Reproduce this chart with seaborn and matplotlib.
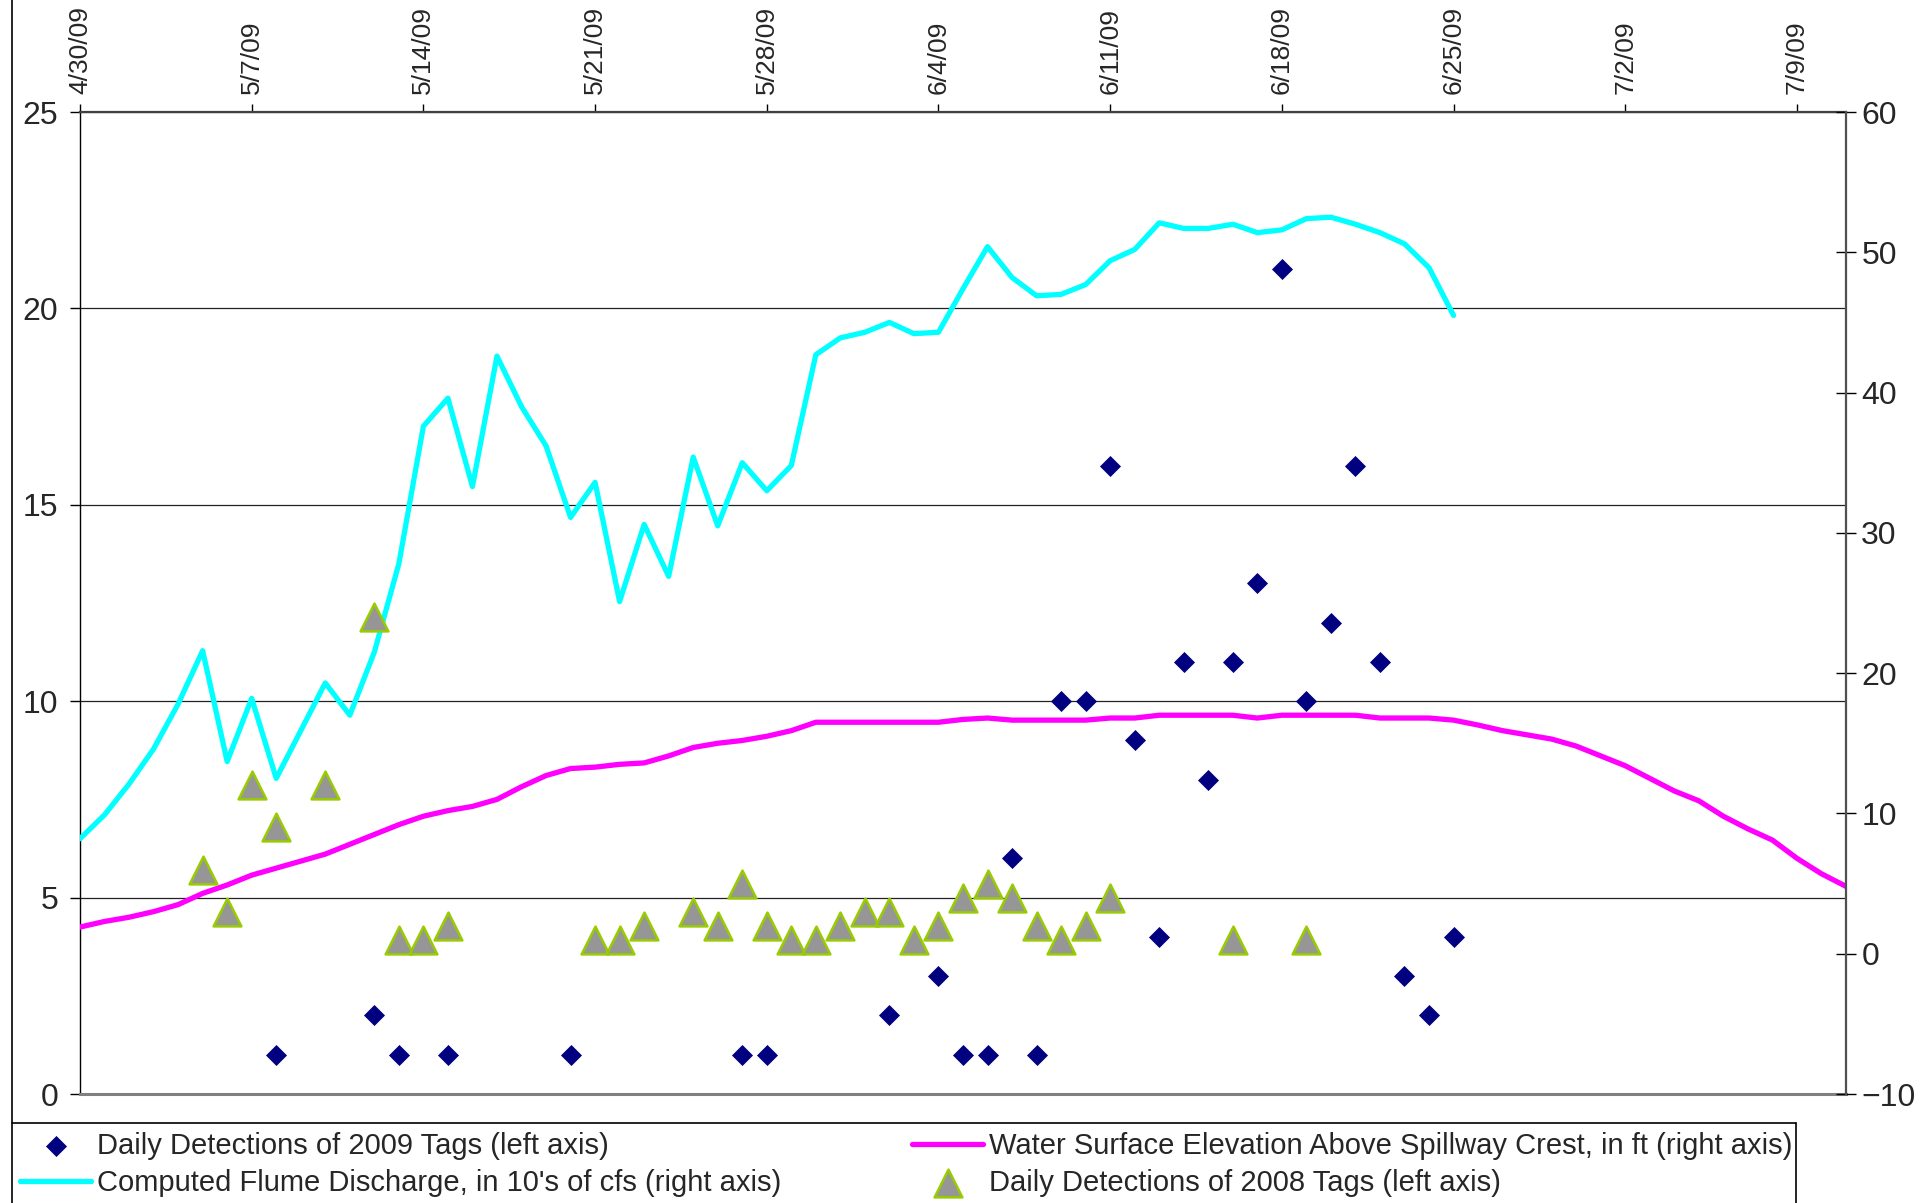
"""
Fish tag detections vs. flume discharge and water surface elevation, 2009.
"""

import matplotlib
matplotlib.use("Agg")
import matplotlib.pyplot as plt
from matplotlib.lines import Line2D
import seaborn as sns
import pandas as pd

sns.set_style("white")
plt.rcParams['font.family'] = ['Liberation Sans', 'DejaVu Sans']

# ---- data -------------------------------------------------------------
start = pd.Timestamp("2009-04-30")
end = pd.Timestamp("2009-07-11")

tick_labels = ["4/30/09", "5/7/09", "5/14/09", "5/21/09", "5/28/09", "6/4/09",
               "6/11/09", "6/18/09", "6/25/09", "7/2/09", "7/9/09"]

# daily detections of 2009 tags (left axis), day offset from 4/30/09
tags_2009_day = [8, 12, 13, 15, 20, 27, 28, 33, 35, 36, 37, 38, 39, 40, 41,
                 42, 43, 44, 45, 46, 47, 48, 49, 50, 51, 52, 53, 54, 55, 56]
tags_2009 = [1, 2, 1, 1, 1, 1, 1, 2, 3, 1, 1, 6, 1, 10, 10,
             16, 9, 4, 11, 8, 11, 13, 21, 10, 12, 16, 11, 3, 2, 4]

# daily detections of 2008 tags (plotted against the right axis)
tags_2008_day = [5, 6, 7, 8, 10, 12, 13, 14, 15, 21, 22, 23, 25, 26, 27, 28,
                 29, 30, 31, 32, 33, 34, 35, 36, 37, 38, 39, 40, 41, 42, 47, 50]
tags_2008 = [6, 3, 12, 9, 12, 24, 1, 1, 2, 1, 1, 2, 3, 2, 5, 2,
             1, 1, 2, 3, 3, 1, 2, 4, 5, 4, 2, 1, 2, 4, 1, 1]

# computed flume discharge, 10's of cfs (right axis), daily from 4/30/09
flume = [8.2, 9.9, 12.1, 14.6, 17.8, 21.6, 13.7, 18.2, 12.5, 15.9,
         19.3, 17.0, 21.5, 27.8, 37.6, 39.6, 33.3, 42.6, 39.0, 36.2,
         31.1, 33.6, 25.1, 30.6, 26.9, 35.4, 30.5, 35.0, 33.0, 34.8,
         42.7, 43.9, 44.3, 45.0, 44.2, 44.3, 47.4, 50.4, 48.2, 46.9,
         47.0, 47.7, 49.4, 50.2, 52.1, 51.7, 51.7, 52.0, 51.4, 51.6,
         52.4, 52.5, 52.0, 51.4, 50.6, 48.9, 45.5]

# water surface elevation above spillway crest, ft (right axis), daily from 4/30/09
water = [1.9, 2.3, 2.6, 3.0, 3.5, 4.3, 4.9, 5.6, 6.1, 6.6,
         7.1, 7.8, 8.5, 9.2, 9.8, 10.2, 10.5, 11.0, 11.9, 12.7,
         13.2, 13.3, 13.5, 13.6, 14.1, 14.7, 15.0, 15.2, 15.5, 15.9,
         16.5, 16.5, 16.5, 16.5, 16.5, 16.5, 16.7, 16.8, 16.65, 16.65,
         16.65, 16.65, 16.8, 16.8, 17.0, 17.0, 17.0, 17.0, 16.8, 17.0,
         17.0, 17.0, 17.0, 16.8, 16.8, 16.8, 16.65, 16.3, 15.9, 15.6,
         15.3, 14.8, 14.1, 13.4, 12.5, 11.6, 10.9, 9.8, 8.9, 8.1,
         6.8, 5.7, 4.8]

labels = ["Daily Detections of 2009 Tags (left axis)",
          "Computed Flume Discharge, in 10's of cfs (right axis)",
          "Water Surface Elevation Above Spillway Crest, in ft (right axis)",
          "Daily Detections of 2008 Tags (left axis)"]

df09 = pd.DataFrame({'date': start + pd.to_timedelta(tags_2009_day, unit='D'), 'n': tags_2009})
df08 = pd.DataFrame({'date': start + pd.to_timedelta(tags_2008_day, unit='D'), 'n': tags_2008})
df_flume = pd.DataFrame({'date': pd.date_range(start, periods=len(flume)), 'v': flume})
df_water = pd.DataFrame({'date': pd.date_range(start, periods=len(water)), 'v': water})
tick_dates = pd.date_range(start, periods=len(tick_labels), freq='7D')

# ---- figure -----------------------------------------------------------
W, H = 1920, 1203
fig = plt.figure(figsize=(W / 100, H / 100), dpi=100)
fig.patch.set_facecolor('white')
ax = fig.add_axes([80 / W, 1 - 1094 / H, (1846 - 80) / W, (1094 - 112) / H])

sns.scatterplot(data=df09, x='date', y='n', marker='D', s=115, color='#000080',
                edgecolor='#000080', linewidth=0, ax=ax, zorder=3)

ax2 = ax.twinx()
sns.lineplot(data=df_flume, x='date', y='v', color='#00FFFF', linewidth=3.8,
             errorbar=None, ax=ax2)
sns.lineplot(data=df_water, x='date', y='v', color='#FF00FF', linewidth=3.8,
             errorbar=None, ax=ax2)
sns.scatterplot(data=df08, x='date', y='n', marker='^', s=400, color='#969696',
                edgecolor='#99CC00', linewidth=1.8, ax=ax2, zorder=4)

# axes
ax.set_xlim(start, end)
ax.set_ylim(0, 25)
ax2.set_ylim(-10, 60)
ax.set_yticks(range(0, 26, 5))
ax2.set_yticks(range(-10, 61, 10))
ax.set_xticks(tick_dates)
ax.set_xticklabels(tick_labels, rotation=90)
ax.xaxis.tick_top()
for a in (ax, ax2):
    a.set_xlabel('')
    a.set_ylabel('')

ax.tick_params(axis='x', top=True, bottom=False, labeltop=True, labelbottom=False,
               direction='out', length=6, width=1, color='black', pad=7,
               labelsize=19)
ax.tick_params(axis='y', left=True, direction='out', length=7.5, width=1,
               color='black', pad=8, labelsize=23)
ax2.tick_params(axis='y', right=True, direction='inout', length=14, width=1,
                color='black', pad=4, labelsize=23)

ax.yaxis.grid(True, color='#222222', linewidth=0.9)
ax.set_axisbelow(True)

ax.spines['top'].set_color('#404040')
ax.spines['top'].set_linewidth(1.6)
ax.spines['bottom'].set_color('#808080')
ax.spines['bottom'].set_linewidth(2.2)
ax.spines['left'].set_color('black')
ax.spines['left'].set_linewidth(1.0)
ax.spines['right'].set_visible(False)
for s in ('top', 'bottom', 'left'):
    ax2.spines[s].set_visible(False)
ax2.spines['right'].set_color('#505050')
ax2.spines['right'].set_linewidth(1.6)

# legend (two columns placed like the original)
h09 = ax.collections[0]
h_flume, h_water = ax2.lines[0], ax2.lines[1]
h08 = ax2.collections[0]
leg_kw = dict(loc='upper left', frameon=False, fontsize=21, handlelength=2.45,
              handletextpad=0.2, labelspacing=0.3, borderpad=0,
              borderaxespad=0, scatterpoints=1)
fig.legend(handles=[h09, h_flume], labels=[labels[0], labels[1]],
           bbox_to_anchor=(20 / W, 1 - 1132 / H), **leg_kw)
fig.legend(handles=[h_water, h08], labels=[labels[2], labels[3]],
           bbox_to_anchor=(912 / W, 1 - 1132 / H), **leg_kw)

# chart border and legend box
fig.add_artist(Line2D([12 / W, 12 / W], [0, 1], color='black', lw=1.2,
                      transform=fig.transFigure))
fig.add_artist(Line2D([12 / W, 1796 / W], [1 - 1123 / H] * 2, color='black',
                      lw=1.2, transform=fig.transFigure))
fig.add_artist(Line2D([1796 / W] * 2, [0, 1 - 1123 / H], color='black',
                      lw=1.2, transform=fig.transFigure))

fig.savefig('out.png', dpi=100, facecolor='white')
